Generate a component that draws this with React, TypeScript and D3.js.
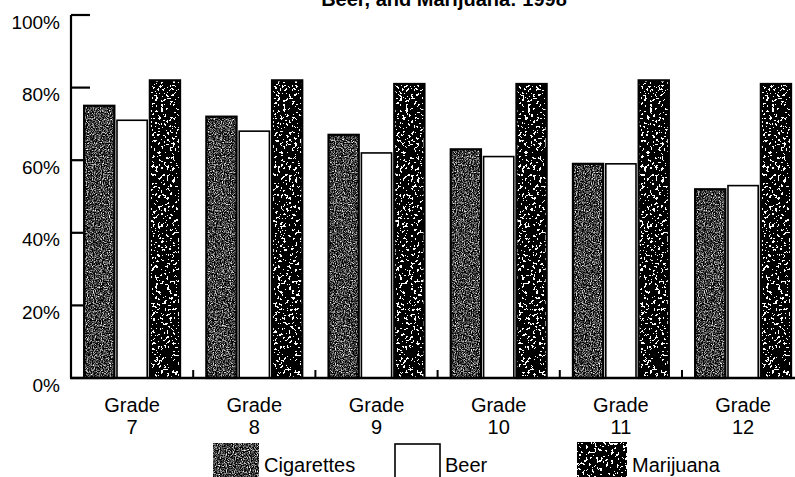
import React from "react";
import * as d3 from "d3";

const grades = ["7", "8", "9", "10", "11", "12"];
const seriesNames = ["Cigarettes", "Beer", "Marijuana"];
const cigarettes = [75, 72, 67, 63, 59, 52];
const beer = [71, 68, 62, 61, 59, 53];
const marijuana = [82, 82, 81, 81, 82, 81];
const yTicks = [0, 20, 40, 60, 80, 100];
const titleLine = "Beer, and Marijuana: 1998";

const W = 795;
const H = 477;
const FONT = "'Liberation Sans', Arial, Helvetica, sans-serif";

export default function App() {
  const valuesBySeries: Record<string, number[]> = {
    Cigarettes: cigarettes,
    Beer: beer,
    Marijuana: marijuana,
  };
  const x0 = d3
    .scaleBand<string>()
    .domain(grades)
    .range([71, 71 + 6 * 122.2])
    .paddingInner(0.215)
    .paddingOuter(0.1075);
  const x1 = d3
    .scaleBand<string>()
    .domain(seriesNames)
    .range([0, x0.bandwidth()])
    .paddingInner(0.08)
    .paddingOuter(0);
  const y = d3.scaleLinear().domain([0, 100]).range([378, 15]);

  const fillFor = (s: string) =>
    s === "Beer" ? "#ffffff" : s === "Cigarettes" ? "#333" : "#222";
  const filterFor = (s: string) =>
    s === "Cigarettes" ? "url(#cigTex)" : s === "Marijuana" ? "url(#marTex)" : undefined;

  const gap = x0.step() * x0.paddingInner();
  const sepTicks = grades.slice(1).map((g) => (x0(g) as number) - gap / 2);

  const legend = [
    { name: "Cigarettes", x: 213, y: 443, w: 46, tx: 264 },
    { name: "Beer", x: 395, y: 444, w: 45, tx: 445 },
    { name: "Marijuana", x: 577, y: 442, w: 50, tx: 632 },
  ];

  const marTable = "0 0 0 0 0 0 0 0 0 0 1 1 1 1 1 1";

  return (
    <svg
      width={W}
      height={H}
      style={{ position: "absolute", left: 0, top: 0, background: "#fff" }}
      fontFamily={FONT}
    >
      <defs>
        <filter
          id="cigTex"
          x="0"
          y="0"
          width="1"
          height="1"
          filterUnits="objectBoundingBox"
          colorInterpolationFilters="sRGB"
        >
          <feTurbulence type="fractalNoise" baseFrequency="0.87" numOctaves="2" seed="4" result="n" />
          <feColorMatrix
            in="n"
            type="matrix"
            values="1 0 0 0 0  1 0 0 0 0  1 0 0 0 0  0 0 0 0 1"
            result="g"
          />
          <feComponentTransfer in="g" result="t">
            <feFuncR type="linear" slope="2.5" intercept="-1.0" />
            <feFuncG type="linear" slope="2.5" intercept="-1.0" />
            <feFuncB type="linear" slope="2.5" intercept="-1.0" />
          </feComponentTransfer>
          <feComposite in="t" in2="SourceGraphic" operator="in" />
        </filter>
        <filter
          id="marTex"
          x="0"
          y="0"
          width="1"
          height="1"
          filterUnits="objectBoundingBox"
          colorInterpolationFilters="sRGB"
        >
          <feTurbulence type="fractalNoise" baseFrequency="0.35" numOctaves="3" seed="9" result="n" />
          <feColorMatrix
            in="n"
            type="matrix"
            values="1 0 0 0 0  1 0 0 0 0  1 0 0 0 0  0 0 0 0 1"
            result="g"
          />
          <feComponentTransfer in="g" result="t">
            <feFuncR type="discrete" tableValues={marTable} />
            <feFuncG type="discrete" tableValues={marTable} />
            <feFuncB type="discrete" tableValues={marTable} />
          </feComponentTransfer>
          <feComposite in="t" in2="SourceGraphic" operator="in" />
        </filter>
      </defs>

      {/* title (second line, cut at the top edge as in the reference) */}
      <text x={444} y={6} textAnchor="middle" fontSize={20} fontWeight="bold" fill="#000">
        {titleLine}
      </text>

      {/* bars */}
      {grades.map((g, gi) => (
        <g key={g} transform={`translate(${x0(g)},0)`}>
          {seriesNames.map((s) => {
            const v = valuesBySeries[s][gi];
            const bx = x1(s) as number;
            const by = y(v);
            const bh = y(0) - y(v);
            return (
              <g key={s}>
                <rect x={bx} y={by} width={x1.bandwidth()} height={bh} fill={fillFor(s)} filter={filterFor(s)} />
                <rect
                  x={bx}
                  y={by}
                  width={x1.bandwidth()}
                  height={bh}
                  fill="none"
                  stroke="#000"
                  strokeWidth={s === "Beer" ? 1.6 : 2.2}
                />
              </g>
            );
          })}
        </g>
      ))}

      {/* y axis */}
      <line x1={71} x2={71} y1={y(100)} y2={y(0)} stroke="#000" strokeWidth={2.2} />
      {yTicks.map((t) => (
        <g key={t}>
          <line
            x1={71}
            x2={t >= 80 ? 90 : 83}
            y1={y(t)}
            y2={y(t)}
            stroke="#000"
            strokeWidth={2.2}
          />
          <text x={60} y={y(t) + 13.5} textAnchor="end" fontSize={19} fill="#000">
            {`${t}%`}
          </text>
        </g>
      ))}

      {/* x axis */}
      <line x1={70} x2={W} y1={y(0)} y2={y(0)} stroke="#000" strokeWidth={2.4} />
      {sepTicks.map((sx, i) => (
        <line key={i} x1={sx} x2={sx} y1={y(0)} y2={y(0) - 8} stroke="#000" strokeWidth={2} />
      ))}
      {grades.map((g) => {
        const cx = (x0(g) as number) + x0.bandwidth() / 2;
        return (
          <g key={g}>
            <text x={cx} y={411.5} textAnchor="middle" fontSize={20} fill="#000">
              Grade
            </text>
            <text x={cx} y={434} textAnchor="middle" fontSize={20} fill="#000">
              {g}
            </text>
          </g>
        );
      })}

      {/* legend */}
      {legend.map((l) => (
        <g key={l.name}>
          <rect x={l.x} y={l.y} width={l.w} height={40} fill={fillFor(l.name)} filter={filterFor(l.name)} />
          {l.name === "Beer" && (
            <rect x={l.x} y={l.y} width={l.w} height={40} fill="none" stroke="#000" strokeWidth={1.6} />
          )}
          <text x={l.tx} y={472} fontSize={20} fill="#000">
            {l.name}
          </text>
        </g>
      ))}
    </svg>
  );
}
